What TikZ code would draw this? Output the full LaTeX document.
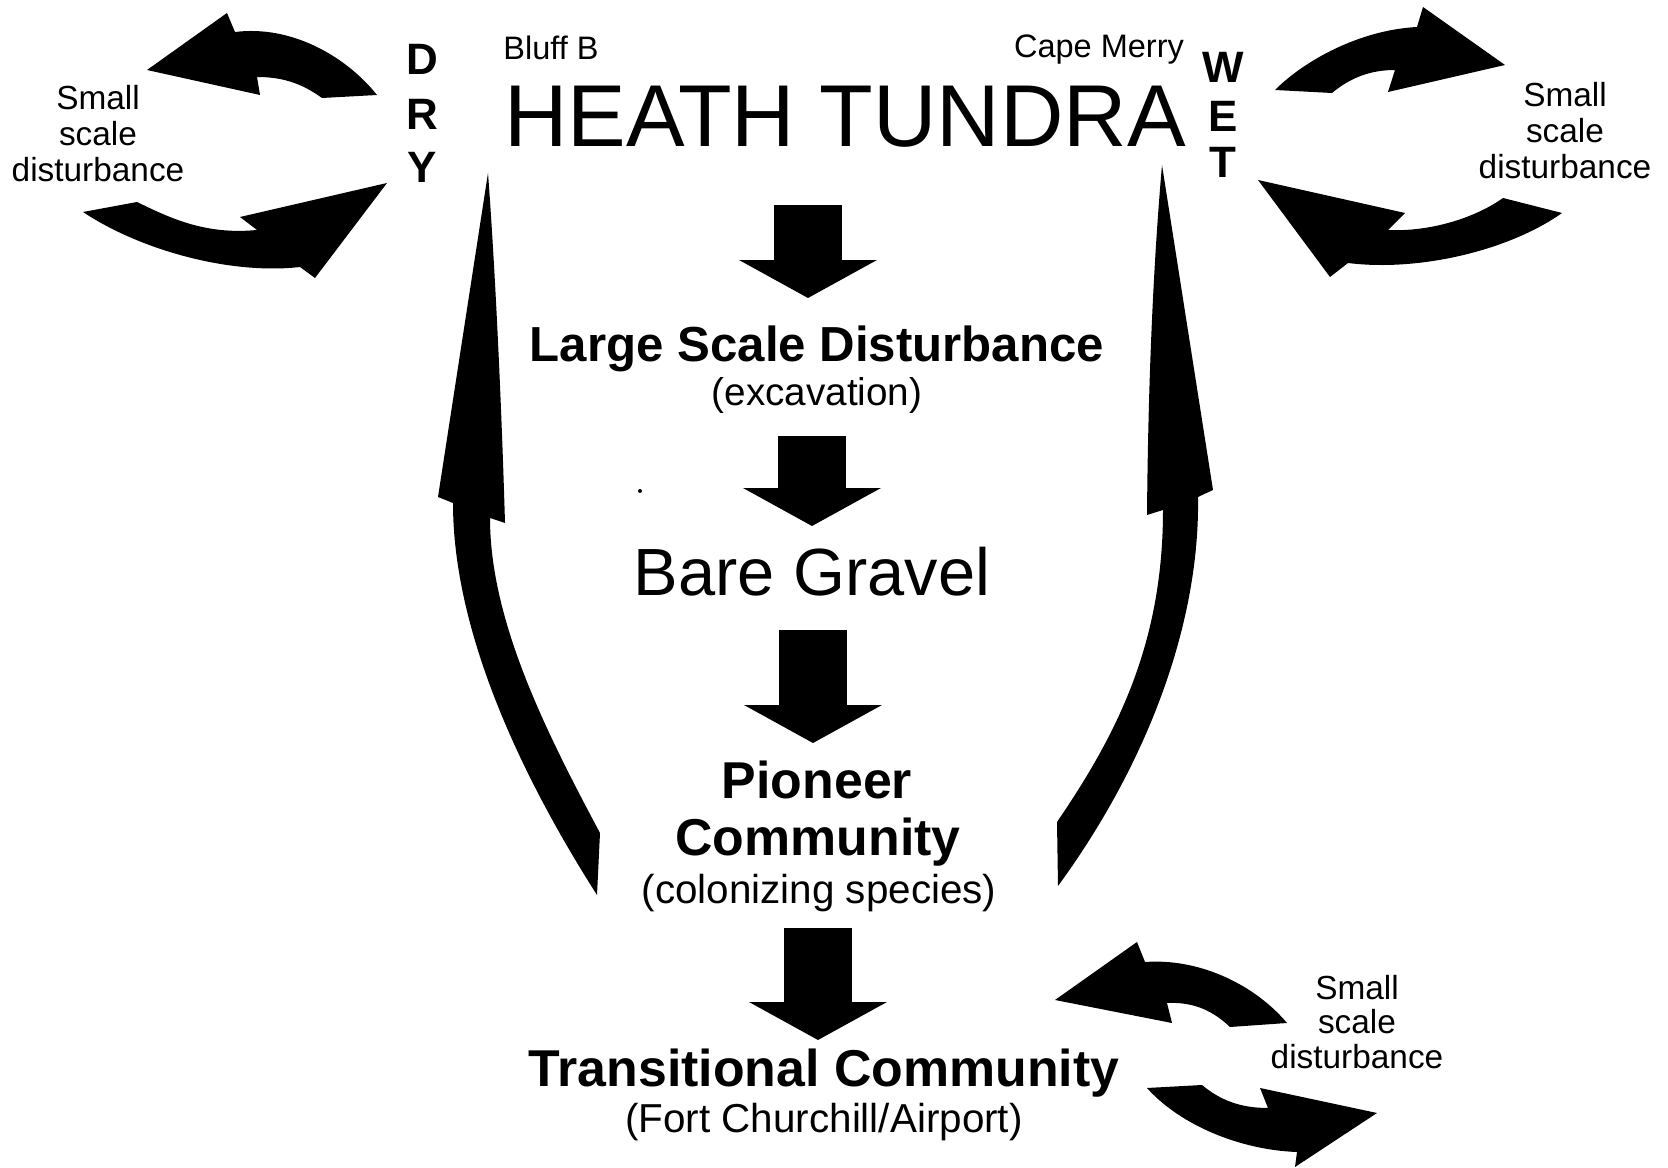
\documentclass[tikz,border=0pt]{standalone}
\usepackage{fontspec}
\setmainfont{Liberation Sans}
\usetikzlibrary{arrows.meta}

\tikzset{
  title/.style={font=\fontsize{50}{60}\selectfont, anchor=base, inner sep=0pt},
  site/.style={font=\fontsize{18.5}{22}\selectfont, anchor=base, inner sep=0pt},
  letter/.style={font=\bfseries\fontsize{25}{30}\selectfont, anchor=base, inner sep=0pt},
  stage/.style={font=\bfseries\fontsize{29.5}{34}\selectfont, anchor=base, inner sep=0pt},
  note/.style={font=\fontsize{23}{27}\selectfont, anchor=base, inner sep=0pt},
  small/.style={font=\fontsize{19}{20.5}\selectfont, align=center, inner sep=0pt},
  blockarrow/.style={line width=1.36cm, -{Triangle[length=0.76cm, width=2.76cm, line width=0pt]}},
  swirl/.style={fill=black},
}

\begin{document}
\begin{tikzpicture}[x=0.02cm, y=-0.02cm]
\useasboundingbox (0,0) rectangle (1668,1168);

% headings
\node[title] (heath) at (845,147) {HEATH TUNDRA};
\node[site] (bluff) at (551,60) {Bluff B};
\node[site] (cape) at (1099,58) {Cape Merry};
\foreach \l/\y in {D/75, R/130, Y/183}
  \node[letter] (dry\l) at (422,\y) {\l};
\foreach \l/\y in {W/83, E/132, T/178}
  \node[letter] (wet\l) at (1223,\y) {\l};

% succession
\node[stage, font=\bfseries\fontsize{28}{34}\selectfont] (large) at (817,362) {Large Scale Disturbance};
\node[note, font=\fontsize{22}{26}\selectfont] (excav) at (817,406) {(excavation)};
\node[anchor=base, inner sep=0pt, font=\fontsize{38}{44}\selectfont] (gravel) at (812,596) {Bare Gravel};
\node[stage] (pioneer) at (817,799) {Pioneer};
\node[stage] (community) at (818,856) {Community};
\node[note] (colon) at (819,904) {(colonizing species)};
\node[stage] (trans) at (824,1087) {Transitional Community};
\node[note] (fort) at (824,1133) {(Fort Churchill/Airport)};

\node[small] (smallL) at (98,134) {Small\\scale\\disturbance};
\node[small] (smallR) at (1565,131) {Small\\scale\\disturbance};
\node[small, font=\fontsize{19}{19.4}\selectfont] (smallB) at (1357,1022) {Small\\scale\\disturbance};

% down arrows
\foreach \x/\ya/\yb [count=\i] in {808/205/298, 812/436/526, 813/630/743, 818/928/1040} {
  \coordinate (down\i a) at (\x,\ya);
  \coordinate (down\i b) at (\x,\yb);
  \draw[blockarrow] (down\i a) -- (down\i b);
}

% return arrows
\fill[swirl] (488,173) .. controls (496,280) and (502,420) .. (505,523) -- (490,518)
  .. controls (490,620) and (545,730) .. (600,833) -- (597,895)
  .. controls (530,790) and (453,640) .. (453,503)
  -- (438,497) -- cycle;
\fill[swirl] (1162,165) -- (1213,490) -- (1198,497)
  .. controls (1200,620) and (1150,760) .. (1058,886) -- (1057,822)
  .. controls (1120,730) and (1163,640) .. (1163,510)
  -- (1147,515) .. controls (1148,400) and (1152,280) .. (1162,165) -- cycle;

% small scale cycles
\fill[swirl] (377,95) -- (322,98) .. controls (300,82) and (280,77) .. (257,77) -- (260,95)
  -- (147,70) -- (227,13) -- (235,32) .. controls (290,25) and (345,55) .. (377,95) -- cycle;
\fill[swirl] (83,212) -- (137,202) .. controls (170,218) and (205,235) .. (257,230) -- (240,217)
  -- (387,183) -- (315,278) -- (300,267) .. controls (230,275) and (140,250) .. (83,212) -- cycle;

\fill[swirl] (1275,90) -- (1332,93) .. controls (1350,78) and (1370,70) .. (1395,70) -- (1388,92)
  -- (1505,65) -- (1423,7) -- (1417,27) .. controls (1360,30) and (1305,60) .. (1275,90) -- cycle;
\fill[swirl] (1258,180) -- (1405,213) -- (1388,230) .. controls (1430,232) and (1475,218) .. (1503,198)
  -- (1562,213) .. controls (1510,250) and (1420,272) .. (1348,263) -- (1330,277) -- cycle;

\fill[swirl] (1055,1000) -- (1137,942) -- (1145,962) .. controls (1200,958) and (1255,985) .. (1287,1023)
  -- (1230,1027) .. controls (1210,1008) and (1190,1002) .. (1167,1003) -- (1172,1023) -- cycle;
\fill[swirl] (1147,1088) -- (1202,1085) .. controls (1220,1100) and (1240,1108) .. (1268,1108) -- (1260,1088)
  -- (1377,1113) -- (1295,1167) -- (1297,1152) .. controls (1240,1150) and (1180,1125) .. (1147,1088) -- cycle;

\fill (640,491) circle (2);
\end{tikzpicture}
\end{document}
